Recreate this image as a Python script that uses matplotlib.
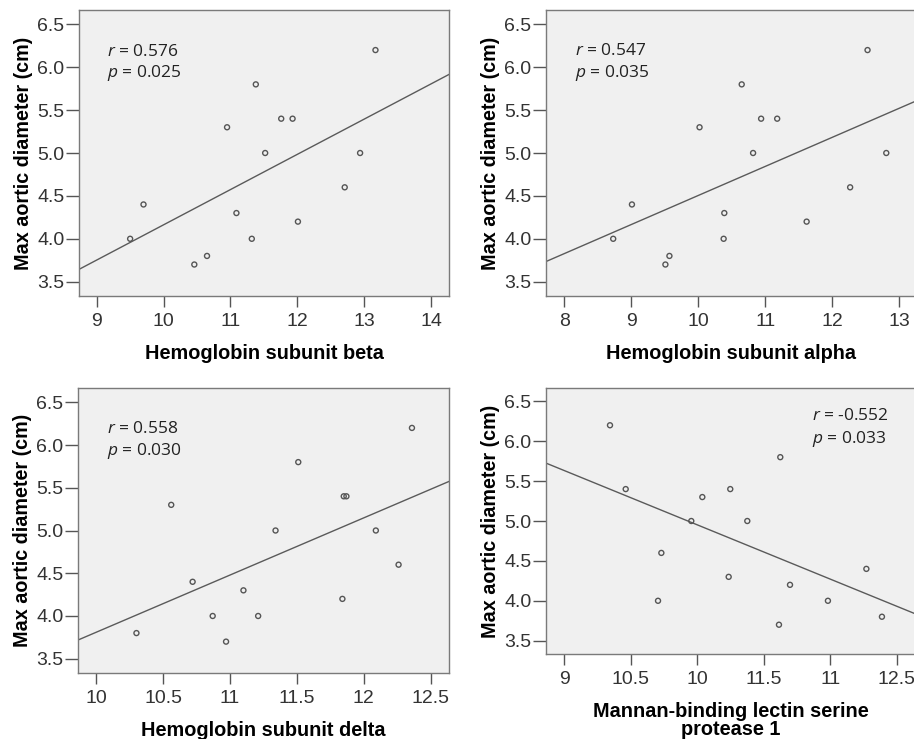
import numpy as np
import matplotlib
matplotlib.use("Agg")
import matplotlib.pyplot as plt

# values
diameter_label = "Max aortic diameter (cm)"

hbb_x = [9.50, 9.70, 10.46, 10.65, 10.95, 11.09, 11.32, 11.38, 11.52, 11.76, 11.93, 12.01, 12.71, 12.94, 13.17]
hbb_y = [4.0, 4.4, 3.7, 3.8, 5.3, 4.3, 4.0, 5.8, 5.0, 5.4, 5.4, 4.2, 4.6, 5.0, 6.2]

hba_x = [8.73, 9.01, 9.51, 9.57, 10.02, 10.38, 10.39, 10.65, 10.82, 10.94, 11.18, 11.62, 12.27, 12.53, 12.81]
hba_y = [4.0, 4.4, 3.7, 3.8, 5.3, 4.0, 4.3, 5.8, 5.0, 5.4, 5.4, 4.2, 4.6, 6.2, 5.0]

hbd_x = [10.30, 10.56, 10.72, 10.87, 10.97, 11.10, 11.21, 11.34, 11.51, 11.84, 11.85, 11.87, 12.09, 12.26, 12.36]
hbd_y = [3.8, 5.3, 4.4, 4.0, 3.7, 4.3, 4.0, 5.0, 5.8, 4.2, 5.4, 5.4, 5.0, 4.6, 6.2]

masp1_x = [9.343, 9.461, 9.704, 9.729, 9.954, 10.037, 10.235, 10.247, 10.375, 10.613, 10.623, 10.696, 10.981, 11.270, 11.387]
masp1_y = [6.2, 5.4, 4.0, 4.6, 5.0, 5.3, 4.3, 5.4, 5.0, 3.7, 5.8, 4.2, 4.0, 4.4, 3.8]
masp1_ticks = [9, 9.5, 10, 10.5, 11, 11.5]
masp1_ticklabels = ["9", "10.5", "10", "11.5", "11", "12.5"]  # as printed in the figure

panels = [
    dict(x=hbb_x, y=hbb_y, xlabel="Hemoglobin subunit beta", r="0.576", p="0.025",
         rect=[79, 10, 449, 296], xlim=(8.735, 14.27), xticks=[9, 10, 11, 12, 13, 14], xticklabels=None,
         txt=(0.075, 0.854, 0.781)),
    dict(x=hba_x, y=hba_y, xlabel="Hemoglobin subunit alpha", r="0.547", p="0.035",
         rect=[546, 10, 916, 296], xlim=(7.726, 13.254), xticks=[8, 9, 10, 11, 12, 13], xticklabels=None,
         txt=(0.079, 0.857, 0.781)),
    dict(x=hbd_x, y=hbd_y, xlabel="Hemoglobin subunit delta", r="0.558", p="0.030",
         rect=[78, 388, 449, 673], xlim=(9.863, 12.637), xticks=[10, 10.5, 11, 11.5, 12, 12.5],
         xticklabels=["10", "10.5", "11", "11.5", "12", "12.5"],
         txt=(0.078, 0.857, 0.78)),
    dict(x=masp1_x, y=masp1_y, xlabel="Mannan-binding lectin serine\nprotease 1", r="-0.552", p="0.033",
         rect=[546, 388, 916, 654], xlim=(8.862, 11.643), xticks=masp1_ticks, xticklabels=masp1_ticklabels,
         txt=(0.719, 0.893, 0.808)),
]

W, H = 914, 739
plt.rcParams["mathtext.fontset"] = "custom"
plt.rcParams["mathtext.it"] = "Open Sans:italic"
plt.rcParams["mathtext.rm"] = "Open Sans"

fig = plt.figure(figsize=(W / 100, H / 100), dpi=100)

for pn in panels:
    l, t, r, b = pn["rect"]
    ax = fig.add_axes([l / W, 1 - b / H, (r - l) / W, (b - t) / H])
    ax.set_facecolor("#f0f0f0")
    for s in ax.spines.values():
        s.set_color("#7a7a7a")
        s.set_linewidth(1.0)

    x = np.array(pn["x"])
    y = np.array(pn["y"])
    ax.scatter(x, y, s=13, facecolors="none", edgecolors="#555555", linewidths=1.0, zorder=3)

    # least squares fit line across the whole axis
    k, c = np.polyfit(x, y, 1)
    xx = np.array(pn["xlim"])
    ax.plot(xx, k * xx + c, color="#5a5a5a", lw=1.0, zorder=2)

    ax.set_xlim(*pn["xlim"])
    ax.set_ylim(3.333, 6.667)
    ax.set_yticks([3.5, 4.0, 4.5, 5.0, 5.5, 6.0, 6.5])
    ax.set_yticklabels(["3.5", "4.0", "4.5", "5.0", "5.5", "6.0", "6.5"])
    ax.set_xticks(pn["xticks"])
    if pn["xticklabels"] is not None:
        ax.set_xticklabels(pn["xticklabels"])

    ax.tick_params(axis="both", direction="out", color="#555555", width=1.0,
                   labelsize=14, labelcolor="#333333")
    ax.tick_params(axis="x", length=8, pad=4)
    ax.tick_params(axis="y", length=9.4, pad=1)
    for lab in ax.get_xticklabels() + ax.get_yticklabels():
        lab.set_fontfamily("Liberation Sans")

    ax.set_xlabel(pn["xlabel"], fontsize=14.3, fontweight="bold", family="Liberation Sans",
                  labelpad=10, linespacing=0.95)
    ax.set_ylabel(diameter_label, fontsize=14.2, fontweight="bold", family="Liberation Sans",
                  labelpad=3)

    tx, ty1, ty2 = pn["txt"]
    ax.text(tx, ty1, r"$\mathit{r}$ = " + pn["r"], transform=ax.transAxes, ha="left", va="center",
            fontsize=12.5, family="Open Sans", color="#222222")
    ax.text(tx, ty2, r"$\mathit{p}$ = " + pn["p"], transform=ax.transAxes, ha="left", va="center",
            fontsize=12.5, family="Open Sans", color="#222222")

fig.savefig("out.png", dpi=100, facecolor="white")
plt.close()
